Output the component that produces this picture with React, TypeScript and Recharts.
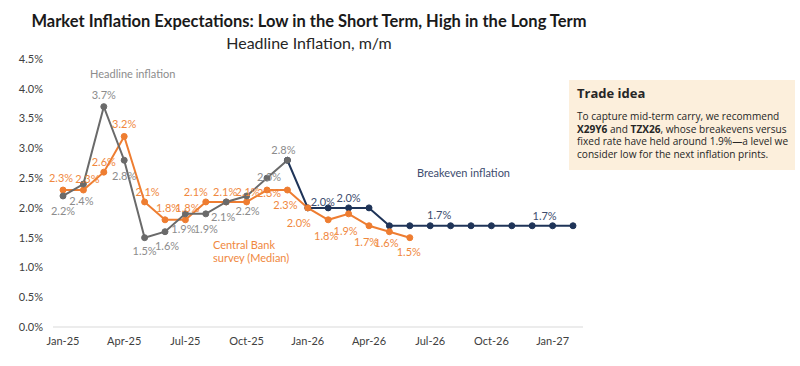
import React from "react";
import { LineChart, Line, XAxis, YAxis, LabelList } from "recharts";

const months = [
  "Jan-25", "Feb-25", "Mar-25", "Apr-25", "May-25", "Jun-25", "Jul-25", "Aug-25", "Sep-25", "Oct-25", "Nov-25", "Dec-25",
  "Jan-26", "Feb-26", "Mar-26", "Apr-26", "May-26", "Jun-26", "Jul-26", "Aug-26", "Sep-26", "Oct-26", "Nov-26", "Dec-26",
  "Jan-27", "Feb-27",
];

const headline: (number | null)[] = [
  2.2, 2.4, 3.7, 2.8, 1.5, 1.6, 1.9, 1.9, 2.1, 2.2, 2.5, 2.8,
  null, null, null, null, null, null, null, null, null, null, null, null, null, null,
];

const survey: (number | null)[] = [
  2.3, 2.3, 2.6, 3.2, 2.1, 1.8, 1.8, 2.1, 2.1, 2.1, 2.3, 2.3,
  2.0, 1.8, 1.9, 1.7, 1.6, 1.5, null, null, null, null, null, null, null, null,
];

const breakeven: (number | null)[] = [
  null, null, null, null, null, null, null, null, null, null, null, 2.8,
  2.0, 2.0, 2.0, 2.0, 1.7, 1.7, 1.7, 1.7, 1.7, 1.7, 1.7, 1.7, 1.7, 1.7,
];

const yTicks = [0, 0.5, 1, 1.5, 2, 2.5, 3, 3.5, 4, 4.5];

const GRAY = "#6a6a6a";
const GRAY_TXT = "#8c8c8c";
const ORANGE = "#ee7d31";
const ORANGE_TXT = "#f0883e";
const NAVY = "#1f3458";
const NAVY_TXT = "#3d4c6e";

const data = months.map((m, i) => ({
  month: m,
  headline: headline[i],
  survey: survey[i],
  breakeven: breakeven[i],
}));

// label offsets [dx, dy] per point index, undefined = no label
const grayLabelPos: Record<number, [number, number]> = {
  0: [0, 15], 1: [-2, 16], 2: [0, -12], 3: [0, 15], 4: [0, 13], 5: [2, 14],
  6: [-2, 15], 7: [0, 15], 8: [-3, 15], 9: [1, 15], 10: [2, -2], 11: [-4, -11],
};
const orangeLabelPos: Record<number, [number, number]> = {
  0: [-2, -13], 1: [4, -12], 2: [0, -11], 3: [0, -13], 4: [3, -10], 5: [3, -12],
  6: [2, -12], 7: [-10, -10], 8: [-1, -10], 9: [1, -10], 10: [2, 2], 11: [-2, 14],
  12: [-9, 15], 13: [-2, 16], 14: [-3, 17], 15: [-3, 16], 16: [-3, 11], 17: [-1, 14],
};
const navyLabelPos: Record<number, [number, number]> = {
  12: [15, -6], 14: [0, -10], 18: [9, -11], 24: [-8, -10],
};

const makeLabel = (pos: Record<number, [number, number]>, color: string) => (props: any) => {
  const { x, y, value, index } = props;
  const p = pos[index];
  if (value == null || !p) return null;
  return (
    <text
      x={x + p[0]}
      y={y + p[1]}
      textAnchor="middle"
      dominantBaseline="central"
      fill={color}
      fontSize={11}
      fontFamily="Lato, sans-serif"
    >
      {value.toFixed(1)}%
    </text>
  );
};

const noteStyle: React.CSSProperties = {
  position: "absolute",
  fontFamily: "Lato, sans-serif",
  fontSize: 11,
  lineHeight: "13px",
};

export default function App() {
  return (
    <div style={{ position: "absolute", left: 0, top: 0, width: 800, height: 366, background: "#fff", fontFamily: "Lato, sans-serif" }}>
      <div style={{ position: "absolute", left: 0, top: 11, width: 618, textAlign: "center", fontWeight: 700, fontSize: 16.5, lineHeight: "20px", color: "#1a1a1a", whiteSpace: "nowrap" }}>
        Market Inflation Expectations: Low in the Short Term, High in the Long Term
      </div>
      <div style={{ position: "absolute", left: 0, top: 33, width: 618, textAlign: "center", fontSize: 16, lineHeight: "20px", color: "#262626" }}>
        Headline Inflation, m/m
      </div>

      <LineChart width={800} height={366} data={data} margin={{ top: 59, right: 217, bottom: 9, left: 0 }}>
        <XAxis
          dataKey="month"
          interval={2}
          padding={{ left: 10, right: 10 }}
          tickLine={false}
          axisLine={{ stroke: "#d9d9d9" }}
          tick={{ fontSize: 11, fill: "#404040", fontFamily: "Lato, sans-serif" }}
          tickMargin={4}
          height={30}
        />
        <YAxis
          domain={[0, 4.5]}
          ticks={yTicks}
          width={53}
          axisLine={false}
          tickLine={false}
          tickMargin={4}
          tickFormatter={(v: number) => `${v.toFixed(1)}%`}
          tick={{ fontSize: 11, fill: "#404040", fontFamily: "Lato, sans-serif" }}
        />
        <Line
          dataKey="breakeven"
          stroke={NAVY}
          strokeWidth={2}
          dot={{ r: 3, fill: NAVY, stroke: NAVY, strokeWidth: 1 }}
          isAnimationActive={false}
        >
          <LabelList dataKey="breakeven" content={makeLabel(navyLabelPos, NAVY_TXT)} />
        </Line>
        <Line
          dataKey="survey"
          stroke={ORANGE}
          strokeWidth={2}
          dot={{ r: 3, fill: ORANGE, stroke: ORANGE, strokeWidth: 1 }}
          isAnimationActive={false}
        >
          <LabelList dataKey="survey" content={makeLabel(orangeLabelPos, ORANGE_TXT)} />
        </Line>
        <Line
          dataKey="headline"
          stroke={GRAY}
          strokeWidth={2}
          dot={{ r: 3, fill: GRAY, stroke: GRAY, strokeWidth: 1 }}
          isAnimationActive={false}
        >
          <LabelList dataKey="headline" content={makeLabel(grayLabelPos, GRAY_TXT)} />
        </Line>
      </LineChart>

      <div style={{ ...noteStyle, left: 90, top: 67, color: GRAY_TXT }}>Headline inflation</div>
      <div style={{ ...noteStyle, left: 213, top: 238, color: ORANGE_TXT }}>
        Central Bank
        <br />
        survey (Median)
      </div>
      <div style={{ ...noteStyle, left: 417, top: 166, color: NAVY_TXT }}>Breakeven inflation</div>

      <div
        style={{
          position: "absolute",
          left: 569,
          top: 80,
          width: 226,
          height: 90,
          background: "#fcefdc",
          boxSizing: "border-box",
          padding: "4px 8px",
          color: "#262626",
          fontFamily: "'Open Sans', sans-serif",
        }}
      >
        <div style={{ fontWeight: 700, fontSize: 13, lineHeight: "18px" }}>Trade idea</div>
        <div style={{ fontSize: 10.1, lineHeight: "12.6px", marginTop: 8, whiteSpace: "nowrap" }}>
          To capture mid-term carry, we recommend
          <br />
          <b>X29Y6</b> and <b>TZX26</b>, whose breakevens versus
          <br />
          fixed rate have held around 1.9%—a level we
          <br />
          consider low for the next inflation prints.
        </div>
      </div>
    </div>
  );
}
